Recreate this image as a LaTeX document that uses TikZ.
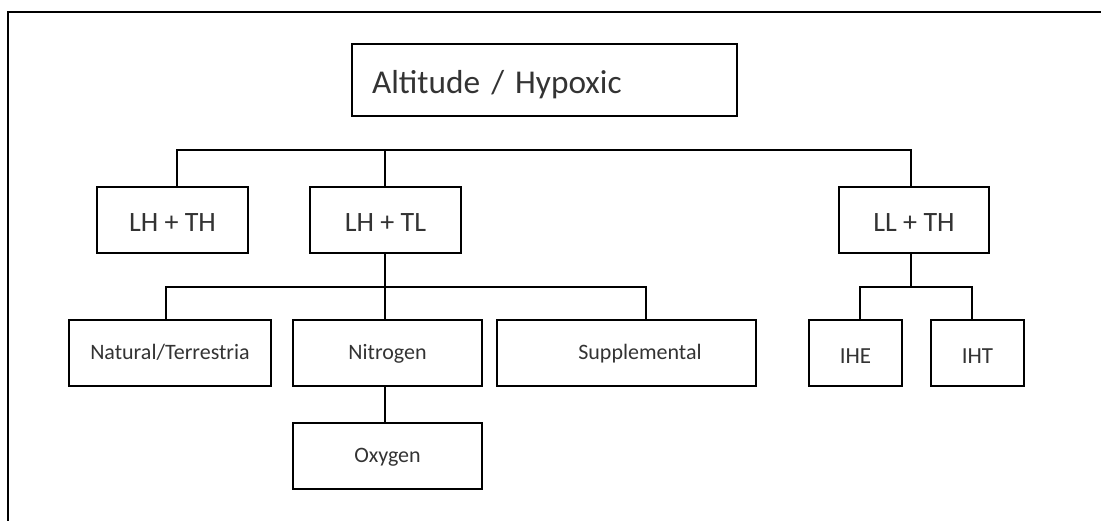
\documentclass[tikz,border=0pt]{standalone}
\usepackage{fontspec}
\setmainfont{Carlito}
\usepackage{tikz}
\tikzset{treebox/.style={draw,inner sep=0pt,minimum height=66pt,text=black!80,text depth=0pt},
  bigtext/.style={font=\fontsize{28}{33}\selectfont,text height=22pt},
  smalltext/.style={font=\fontsize{22}{26}\selectfont,text height=12pt}}

\begin{document}
\begin{tikzpicture}[x=1pt,y=-1pt,line width=1.8pt]
    \useasboundingbox (0,0) rectangle (1101,520);
    \draw (8,525) -- (8,12) -- (1106,12);

    \node[treebox,font=\fontsize{33.3}{38}\selectfont,text height=26pt,minimum height=72pt,
      text width=345pt,inner xsep=20pt,align=left] (alt) at (544.5,80) {Altitude / Hypoxic};

    % first level
    \foreach \name/\xpos/\bw/\txt in {lhth/172.5/151/LH + TH,lhtl/385.5/151/LH + TL,llth/914/150/LL + TH} {
      \node[treebox,bigtext,minimum width=\bw pt] (\name) at (\xpos,220) {\txt};
    }
    \coordinate (busa) at (0,150);
    \draw ([xshift=4.5pt]lhth.north) -- ([xshift=4.5pt]lhth.north |- busa) -- ([xshift=-3pt]llth.north |- busa) -- ([xshift=-3pt]llth.north);
    \draw ([xshift=-0.5pt]lhtl.north) -- ([xshift=-0.5pt]lhtl.north |- busa);

    % second level
    \node[treebox,smalltext,minimum width=202pt] (natural) at (170,353) {Natural/Terrestria};
    \node[treebox,smalltext,minimum width=189pt] (nitrogen) at (387.5,353) {Nitrogen};
    \node[treebox,smalltext,minimum width=259pt] (suppl) at (626.5,353) {\hspace*{27pt}Supplemental};
    \node[treebox,smalltext,minimum width=189pt] (oxygen) at (387.5,456) {Oxygen};
    \node[treebox,font=\fontsize{23}{28}\selectfont,text height=20pt,minimum width=93pt] (ihe) at (855.5,353) {IHE};
    \node[treebox,font=\fontsize{23}{28}\selectfont,text height=20pt,minimum width=93pt] (iht) at (977.5,353) {IHT};

    \coordinate (busb) at (0,287);
    \draw ([xshift=-4pt]natural.north) -- ([xshift=-4pt]natural.north |- busb) -- ([xshift=19.5pt]suppl.north |- busb) -- ([xshift=19.5pt]suppl.north);
    \draw ([xshift=-0.5pt]lhtl.south) -- ([xshift=-0.5pt]lhtl.south |- nitrogen.north);
    \draw ([xshift=-2.5pt]nitrogen.south) -- ([xshift=-2.5pt]oxygen.north);
    \draw ([xshift=-3pt]llth.south) -- ([xshift=-3pt]llth.south |- busb);
    \draw ([xshift=4.5pt]ihe.north) -- ([xshift=4.5pt]ihe.north |- busb) -- ([xshift=-5.5pt]iht.north |- busb) -- ([xshift=-5.5pt]iht.north);
\end{tikzpicture}
\end{document}
